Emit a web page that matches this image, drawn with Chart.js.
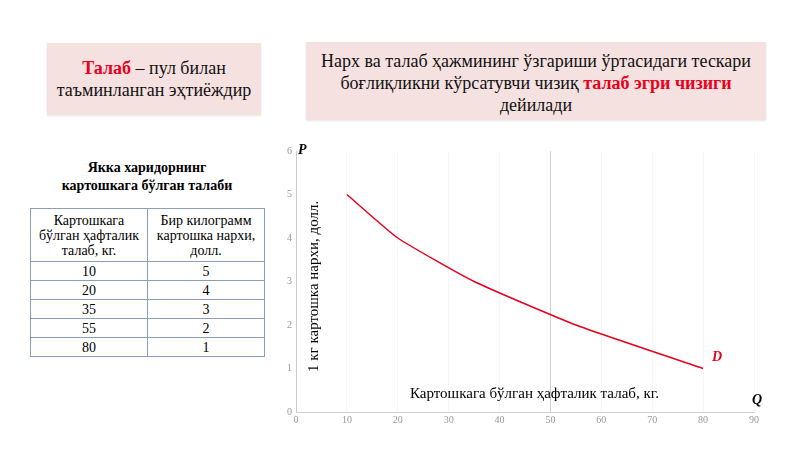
<!DOCTYPE html>
<html><head><meta charset="utf-8">
<script src="https://cdn.jsdelivr.net/npm/chart.js"></script>
<style>
body{margin:0;width:800px;height:449px;background:#fff;font-family:"Liberation Serif",serif;position:relative;overflow:hidden}
.box{position:absolute;background:#f6e1e1;text-align:center;color:#111;box-shadow:0 1px 2px rgba(0,0,0,0.1)}
.red{color:#e8001c;font-weight:bold}
table{position:absolute;left:30px;top:208px;width:234px;border-collapse:collapse;font-size:14px;text-align:center;table-layout:fixed}
td{border:1px solid #8aa0b8;padding:0;height:18px;line-height:15px}
#wrap{position:absolute;left:283px;top:140px;width:483px;height:290px}
.lbl{position:absolute;font-family:"Liberation Serif",serif}
</style></head><body>
<div class="box" style="left:47px;top:43px;width:214px;height:72px;font-size:18px;line-height:22px;padding-top:14px;box-sizing:border-box"><span class="red">Талаб</span> – пул билан таъминланган эҳтиёждир</div>
<div class="box" style="left:306px;top:42px;width:460px;height:78px;font-size:18px;line-height:22px;padding-top:8px;box-sizing:border-box">Нарх ва талаб ҳажмининг ўзгариши ўртасидаги тескари боғлиқликни кўрсатувчи чизиқ <span class="red">талаб эгри чизиги</span> дейилади</div>
<div class="lbl" style="left:30px;top:159px;width:234px;text-align:center;font-weight:bold;font-size:14px;line-height:18px">Якка харидорнинг<br>картошкага бўлган талаби</div>
<table>
<colgroup><col style="width:117px"><col style="width:117px"></colgroup>
<tr><td style="height:52px">Картошкага<br>бўлган ҳафталик<br>талаб, кг.</td><td>Бир килограмм<br>картошка нархи,<br>долл.</td></tr>
<tr><td>10</td><td>5</td></tr><tr><td>20</td><td>4</td></tr><tr><td>35</td><td>3</td></tr><tr><td>55</td><td>2</td></tr><tr><td>80</td><td>1</td></tr>
</table>
<div id="wrap"><canvas id="c"></canvas></div>
<div class="lbl" style="left:298px;top:142px;font-weight:bold;font-style:italic;font-size:14px">P</div>
<div class="lbl" style="left:752px;top:392px;font-weight:bold;font-style:italic;font-size:14px">Q</div>
<div class="lbl" style="left:712px;top:349px;font-weight:bold;font-style:italic;font-size:14px;color:#e8001c">D</div>
<div class="lbl" style="left:410px;top:385px;font-size:15px">Картошкага бўлган ҳафталик талаб, кг.</div>
<div class="lbl" style="left:305px;top:372px;font-size:15px;transform:rotate(-90deg);transform-origin:0 0;white-space:nowrap">1 кг картошка нархи, долл.</div>
<script>
const quantity = [10, 20, 35, 55, 80];
const price = [5, 4, 3, 2, 1];
const xTicks = [0, 10, 20, 30, 40, 50, 60, 70, 80, 90];
const yTicks = [0, 1, 2, 3, 4, 5, 6];

const tickFont = { family: 'Liberation Serif', size: 10 };
new Chart(document.getElementById('c'), {
    type: 'line',
    data: {
        datasets: [{
            data: quantity.map((q, i) => ({ x: q, y: price[i] })),
            borderColor: '#e8001c',
            borderWidth: 1.5,
            pointRadius: 0,
            tension: 0.15,
            fill: false
        }]
    },
    options: {
        responsive: true,
        maintainAspectRatio: false,
        animation: false,
        layout: { padding: { top: 11, right: 12, bottom: 2, left: 0 } },
        plugins: { legend: { display: false }, tooltip: { enabled: false } },
        scales: {
            x: {
                type: 'linear', min: 0, max: 90,
                afterBuildTicks: s => { s.ticks = xTicks.map(v => ({ value: v })); },
                ticks: { color: '#999', font: tickFont, padding: 2 },
                grid: { color: c => c.tick && c.tick.value === 50 ? '#d0d0d0' : '#f6f6f6', drawTicks: false },
                border: { color: '#ccc' }
            },
            y: {
                min: 0, max: 6,
                afterBuildTicks: s => { s.ticks = yTicks.map(v => ({ value: v })); },
                ticks: { color: '#999', font: tickFont, padding: 4 },
                grid: { display: false, drawTicks: false },
                border: { color: '#ccc' }
            }
        }
    }
});
</script>
</body></html>
